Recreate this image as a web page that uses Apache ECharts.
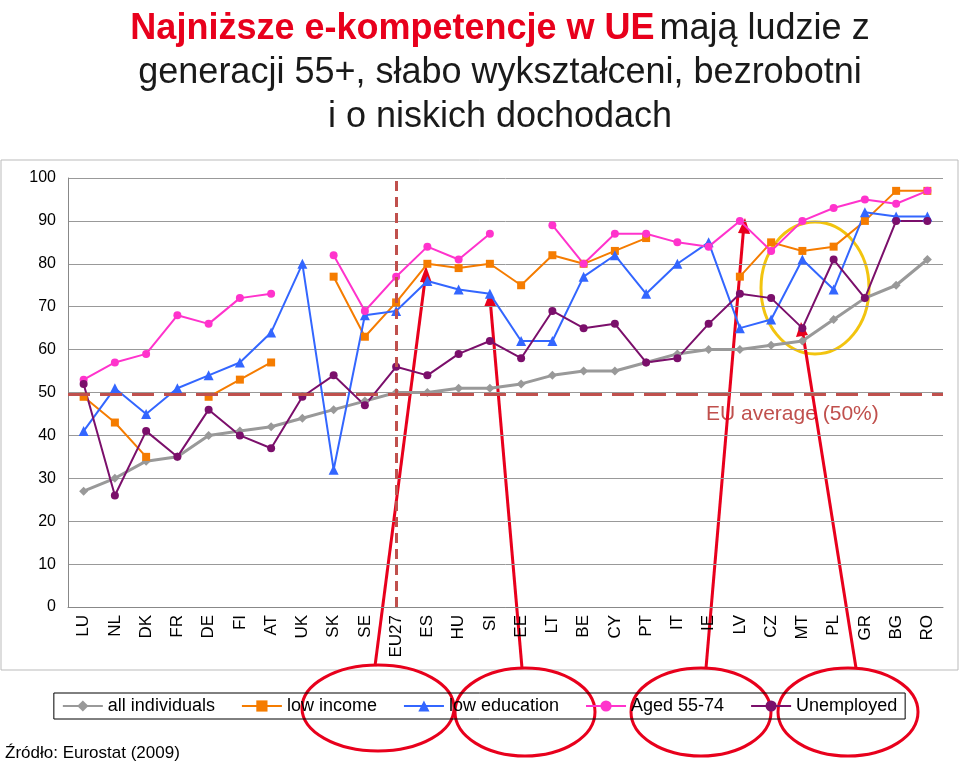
<!DOCTYPE html>
<html><head><meta charset="utf-8">
<script src="https://cdn.jsdelivr.net/npm/echarts@6/dist/echarts.min.js"></script>
<style>html,body{margin:0;padding:0;background:#fff}#c{width:959px;height:769px}</style>
</head><body><div id="c"></div>
<script>
const categories=['LU','NL','DK','FR','DE','FI','AT','UK','SK','SE','EU27','ES','HU','SI','EE','LT','BE','CY','PT','IT','IE','LV','CZ','MT','PL','GR','BG','RO'];
const allIndividuals=[27,30,34,35,40,41,42,44,46,48,50,50,51,51,52,54,55,55,57,59,60,60,61,62,67,72,75,81];
const lowIncome=[49,43,35,null,49,53,57,null,77,63,71,80,79,80,75,82,80,83,86,null,null,77,85,83,84,90,97,97];
const lowEducation=[41,51,45,51,54,57,64,80,32,68,69,76,74,73,62,62,77,82,73,80,85,65,67,81,74,92,91,91];
const aged5574=[53,57,59,68,66,72,73,null,82,69,77,84,81,87,null,89,80,87,87,85,84,90,83,90,93,95,94,97];
const unemployed=[52,26,41,35,46,40,37,49,54,47,56,54,59,62,58,69,65,66,57,58,66,73,72,65,81,72,90,90];
const yTicks=[0,10,20,30,40,50,60,70,80,90,100];
const euAverage=49.5;

const chart=echarts.init(document.getElementById('c'));
function s(name,data,color,symbol,size){return {name,type:'line',data,symbol,symbolSize:size,
  lineStyle:{color,width:2},itemStyle:{color},connectNulls:false,z:3};}
const tf='"Liberation Sans Narrow","Liberation Sans",Arial,sans-serif';
chart.setOption({
  animation:false,
  title:{top:2,textAlign:'center',left:495,
    text:'{r|Najniższe e-kompetencje w UE} {b|mają ludzie z}\n{b|generacji 55+, słabo wykształceni, bezrobotni}\n{b|i o niskich dochodach}',
    textStyle:{rich:{r:{color:'#e8001c',fontSize:36,fontWeight:'bold',fontFamily:tf,lineHeight:44},b:{color:'#1a1a1a',fontSize:36,fontWeight:'normal',fontFamily:tf,lineHeight:44}}}},
  grid:{left:68,right:16,top:178,bottom:162},
  legend:{bottom:50,left:'center',itemWidth:40,itemGap:26,borderColor:'#000',borderWidth:1,padding:[4,8],
    textStyle:{fontSize:18,color:'#000',fontFamily:'Liberation Sans,Arial'},
    data:['all individuals','low income','low education','Aged 55-74','Unemployed']},
  xAxis:{type:'category',data:categories,boundaryGap:true,
    axisLine:{lineStyle:{color:'#888'}},axisTick:{show:false},
    axisLabel:{rotate:90,fontSize:17,color:'#000',fontFamily:'Liberation Sans,Arial',margin:8,interval:0}},
  yAxis:{type:'value',min:0,max:100,interval:10,
    axisLabel:{fontSize:16,color:'#000',fontFamily:'Liberation Sans,Arial',margin:12},
    axisLine:{show:true,lineStyle:{color:'#888'}},
    splitLine:{lineStyle:{color:'#999'}}},
  series:[
    Object.assign(s('all individuals',allIndividuals,'#999999','diamond',9),{lineStyle:{color:'#999',width:3},
      markLine:{silent:true,symbol:'none',label:{show:false},
        data:[{yAxis:euAverage,lineStyle:{color:'#c0504d',type:[22,10],width:3}},
              {xAxis:'EU27',lineStyle:{color:'#c0504d',type:[10,6],width:3}}]}}),
    s('low income',lowIncome,'#f57c00','rect',8),
    s('low education',lowEducation,'#3366ff','triangle',10),
    s('Aged 55-74',aged5574,'#ff33cc','circle',8),
    s('Unemployed',unemployed,'#7b0f6b','circle',8)
  ],
  graphic:[
    {type:'text',left:706,top:404,style:{text:'EU average (50%)',fontSize:21,fill:'#c0504d',fontFamily:'Liberation Sans,Arial'}},
    {type:'text',left:5,top:745,style:{text:'Źródło: Eurostat (2009)',fontSize:17,fill:'#000',fontFamily:'Liberation Sans,Arial'}},
    {type:'rect',shape:{x:1,y:160,width:957,height:510},style:{fill:'none',stroke:'#bbb',lineWidth:1},z:-1},
    {type:'ellipse',shape:{cx:815,cy:288,rx:54,ry:66},style:{fill:'none',stroke:'#f2c40f',lineWidth:3}},
    {type:'ellipse',shape:{cx:378,cy:708,rx:76,ry:43},style:{fill:'none',stroke:'#e8001c',lineWidth:3}},
    {type:'ellipse',shape:{cx:525,cy:712,rx:70,ry:44},style:{fill:'none',stroke:'#e8001c',lineWidth:3}},
    {type:'ellipse',shape:{cx:701,cy:712,rx:70,ry:44},style:{fill:'none',stroke:'#e8001c',lineWidth:3}},
    {type:'ellipse',shape:{cx:848,cy:712,rx:70,ry:44},style:{fill:'none',stroke:'#e8001c',lineWidth:3}},
    {type:'line',shape:{x1:375,y1:666,x2:426,y2:272},style:{stroke:'#e8001c',lineWidth:3}},
    {type:'polygon',shape:{points:[[426,266],[420,282],[432,283]]},style:{fill:'#e8001c'}},
    {type:'line',shape:{x1:522,y1:668,x2:490,y2:298},style:{stroke:'#e8001c',lineWidth:3}},
    {type:'polygon',shape:{points:[[490,292],[484,307],[496,306]]},style:{fill:'#e8001c'}},
    {type:'line',shape:{x1:706,y1:668,x2:744,y2:224},style:{stroke:'#e8001c',lineWidth:3}},
    {type:'polygon',shape:{points:[[745,218],[738,233],[750,234]]},style:{fill:'#e8001c'}},
    {type:'line',shape:{x1:856,y1:668,x2:802,y2:328},style:{stroke:'#e8001c',lineWidth:3}},
    {type:'polygon',shape:{points:[[801,322],[796,337],[808,335]]},style:{fill:'#e8001c'}}
  ]
});
</script></body></html>
